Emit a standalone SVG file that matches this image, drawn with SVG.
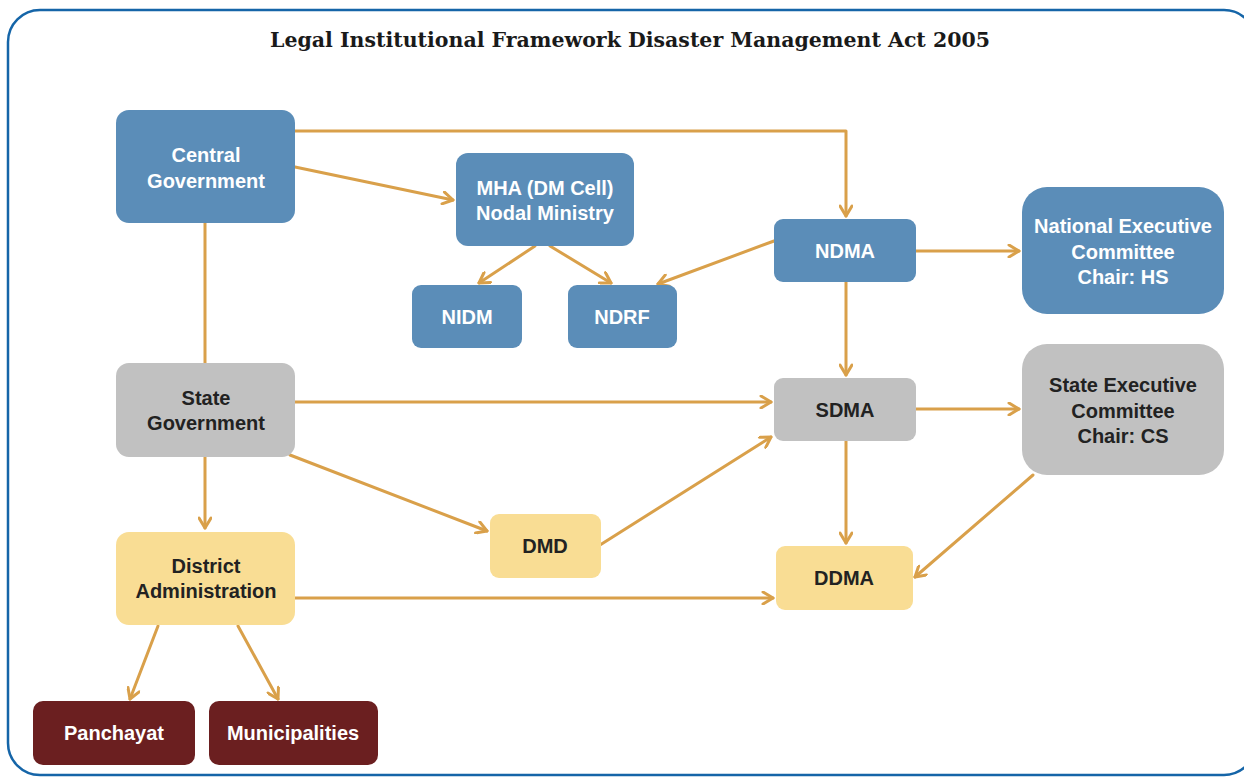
<svg xmlns="http://www.w3.org/2000/svg" width="1244" height="777" viewBox="0 0 1244 777">
<style>
  .blue{fill:#5B8DB8}
  .gray{fill:#C1C1C1}
  .yel{fill:#F9DD94}
  .mar{fill:#6B1F20}
  text{font-family:"Liberation Sans",Arial,sans-serif;font-weight:bold;font-size:20px;text-anchor:middle}
  .w{fill:#FFFFFF}
  .d{fill:#222222}
  .title{font-family:"DejaVu Serif","Liberation Serif",serif;font-size:20px;fill:#1a1a1a}
  .c{fill:none;stroke:#D9A04A;stroke-width:3;stroke-linecap:round;stroke-linejoin:round}
</style>
<defs>
  <marker id="ah" viewBox="0 0 14 14" refX="12" refY="7" markerWidth="14" markerHeight="14" markerUnits="userSpaceOnUse" orient="auto">
    <path d="M2,1 L12,7 L2,13" fill="none" stroke="#D9A04A" stroke-width="3" stroke-linecap="round" stroke-linejoin="round"/>
  </marker>
</defs>
<rect x="0" y="0" width="1244" height="777" fill="#FFFFFF"/>
<rect x="8" y="10" width="1248" height="765" rx="32" fill="none" stroke="#1565A8" stroke-width="2.5"/>
<text class="title" x="630" y="47" textLength="720" lengthAdjust="spacingAndGlyphs">Legal Institutional Framework Disaster Management Act 2005</text>

<g id="connectors">
  <path class="c" d="M295,131 H846 V216" marker-end="url(#ah)"/>
  <path class="c" d="M295,167 L453,200" marker-end="url(#ah)"/>
  <path class="c" d="M205,223 V363"/>
  <path class="c" d="M535,246 L479,283" marker-end="url(#ah)"/>
  <path class="c" d="M550,246 L611,283" marker-end="url(#ah)"/>
  <path class="c" d="M774,241 L658,284" marker-end="url(#ah)"/>
  <path class="c" d="M916,251 L1019,251" marker-end="url(#ah)"/>
  <path class="c" d="M846,282 V375" marker-end="url(#ah)"/>
  <path class="c" d="M295,402 L771,402" marker-end="url(#ah)"/>
  <path class="c" d="M290,455 L487,531" marker-end="url(#ah)"/>
  <path class="c" d="M205,456 V528" marker-end="url(#ah)"/>
  <path class="c" d="M600,545 L771,437" marker-end="url(#ah)"/>
  <path class="c" d="M916,409 L1019,409" marker-end="url(#ah)"/>
  <path class="c" d="M846,440 V543" marker-end="url(#ah)"/>
  <path class="c" d="M1033,475 L915,577" marker-end="url(#ah)"/>
  <path class="c" d="M295,598 L773,598" marker-end="url(#ah)"/>
  <path class="c" d="M158,626 L130,699" marker-end="url(#ah)"/>
  <path class="c" d="M238,626 L278,699" marker-end="url(#ah)"/>
</g>

<g id="central-government">
  <rect class="blue" x="116" y="110" width="179" height="113" rx="13"/>
  <text class="w" x="206" y="162">Central</text>
  <text class="w" x="206" y="188">Government</text>
</g>
<g id="mha">
  <rect class="blue" x="456" y="153" width="178" height="93" rx="12"/>
  <text class="w" x="545" y="195">MHA (DM Cell)</text>
  <text class="w" x="545" y="220">Nodal Ministry</text>
</g>
<g id="nidm">
  <rect class="blue" x="412" y="285" width="110" height="63" rx="9"/>
  <text class="w" x="467" y="324">NIDM</text>
</g>
<g id="ndrf">
  <rect class="blue" x="568" y="285" width="109" height="63" rx="9"/>
  <text class="w" x="622" y="324">NDRF</text>
</g>
<g id="ndma">
  <rect class="blue" x="774" y="219" width="142" height="63" rx="9"/>
  <text class="w" x="845" y="258">NDMA</text>
</g>
<g id="nec">
  <rect class="blue" x="1022" y="187" width="202" height="127" rx="25"/>
  <text class="w" x="1123" y="233">National Executive</text>
  <text class="w" x="1123" y="259">Committee</text>
  <text class="w" x="1123" y="284">Chair: HS</text>
</g>
<g id="state-government">
  <rect class="gray" x="116" y="363" width="179" height="94" rx="13"/>
  <text class="d" x="206" y="405">State</text>
  <text class="d" x="206" y="430">Government</text>
</g>
<g id="sdma">
  <rect class="gray" x="774" y="378" width="142" height="63" rx="9"/>
  <text class="d" x="845" y="417">SDMA</text>
</g>
<g id="sec">
  <rect class="gray" x="1022" y="344" width="202" height="131" rx="25"/>
  <text class="d" x="1123" y="392">State Executive</text>
  <text class="d" x="1123" y="418">Committee</text>
  <text class="d" x="1123" y="443">Chair: CS</text>
</g>
<g id="dmd">
  <rect class="yel" x="490" y="514" width="111" height="64" rx="9"/>
  <text class="d" x="545" y="553">DMD</text>
</g>
<g id="district-administration">
  <rect class="yel" x="116" y="532" width="179" height="93" rx="13"/>
  <text class="d" x="206" y="573">District</text>
  <text class="d" x="206" y="598">Administration</text>
</g>
<g id="ddma">
  <rect class="yel" x="776" y="546" width="137" height="64" rx="9"/>
  <text class="d" x="844" y="585">DDMA</text>
</g>
<g id="panchayat">
  <rect class="mar" x="33" y="701" width="162" height="64" rx="10"/>
  <text class="w" x="114" y="740">Panchayat</text>
</g>
<g id="municipalities">
  <rect class="mar" x="209" y="701" width="169" height="64" rx="10"/>
  <text class="w" x="293" y="740">Municipalities</text>
</g>
</svg>
